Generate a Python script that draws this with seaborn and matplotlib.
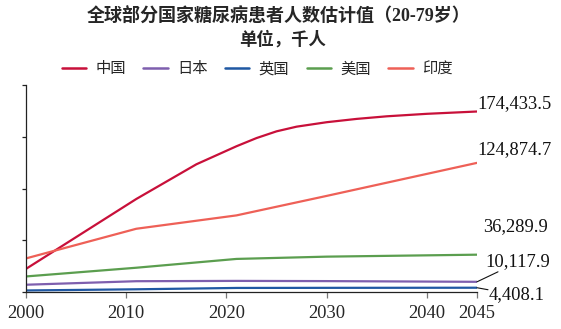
import matplotlib
matplotlib.use("Agg")
import matplotlib.pyplot as plt
import seaborn as sns
import pandas as pd

# Estimated number of people with diabetes (aged 20-79), thousands
countries = ["中国", "日本", "英国", "美国", "印度"]
years_china = [2000, 2011, 2017, 2021, 2023, 2025, 2027, 2030, 2033, 2036, 2040, 2045]
china = [22600, 90000, 123500, 140900, 148800, 155300, 159800, 164100, 167300, 169800, 172200, 174433.5]
years = [2000, 2011, 2021, 2030, 2045]
japan = [7300, 10700, 11000, 10800, 10117.9]
uk = [1760, 2900, 4200, 4300, 4408.1]
usa = [15300, 23700, 32200, 34400, 36289.9]
india = [32700, 61300, 74200, 93000, 124874.7]
colors = ["#C8103A", "#7E5FAE", "#1F58A3", "#5B9E4F", "#EE6057"]
x_ticks = [2000, 2010, 2020, 2030, 2040, 2045]

series = {"中国": (years_china, china), "日本": (years, japan), "英国": (years, uk),
          "美国": (years, usa), "印度": (years, india)}
rows = []
for name, (yrs, vals) in series.items():
    for yr, v in zip(yrs, vals):
        rows.append({"year": yr, "value": v, "country": name})
df = pd.DataFrame(rows)

sns.set_style("ticks")
plt.rcParams["font.family"] = ["Liberation Serif", "Noto Sans CJK SC", "DejaVu Sans"]

fig = plt.figure(figsize=(5.61, 3.29), dpi=100)
ax = fig.add_axes([26 / 561, 1 - 292.3 / 329, (477 - 26) / 561, (292.3 - 85) / 329])

sns.lineplot(data=df, x="year", y="value", hue="country", hue_order=countries,
             palette=dict(zip(countries, colors)), linewidth=1.6, ax=ax, legend=False)
for line in ax.get_lines():
    line.set_solid_joinstyle("round")

ax.set_xlim(2000, 2045)
ax.set_ylim(0, 200000)
ax.set_xticks(x_ticks)
ax.set_xticklabels([str(t) for t in x_ticks], fontsize=13.3, family="Liberation Serif")
ax.set_yticks([0, 50000, 100000, 150000, 200000])
ax.set_yticklabels([])
ax.set_xlabel("")
ax.set_ylabel("")
for side in ["top", "right"]:
    ax.spines[side].set_visible(False)
ax.spines["left"].set_color("#222222")
ax.spines["bottom"].set_color("#222222")
ax.spines["left"].set_linewidth(0.9)
ax.spines["bottom"].set_linewidth(0.9)
ax.tick_params(axis="x", length=4.5, color="#777777", pad=5, width=0.9)
ax.tick_params(axis="y", length=3, color="#222222", width=0.9)

# End-of-line value labels for 2045
label_style = dict(fontsize=13.3, family="Liberation Serif", color="#111111",
                   textcoords="offset pixels", ha="left", va="center", annotation_clip=False)
ax.annotate("174,433.5", xy=(2045, china[-1]), xytext=(0, 8), **label_style)
ax.annotate("124,874.7", xy=(2045, india[-1]), xytext=(0, 13), **label_style)
ax.annotate("36,289.9", xy=(2045, usa[-1]), xytext=(6, 28), **label_style)
ax.annotate("10,117.9", xy=(2045, japan[-1]), xytext=(8, 20), **label_style)
ax.annotate("4,408.1", xy=(2045, uk[-1]), xytext=(12, -7), **label_style)
leader = dict(arrowstyle="-", color="#111111", lw=0.8, shrinkA=0, shrinkB=0)
ax.annotate("", xy=(2045, japan[-1]), xytext=(21, 10), textcoords="offset pixels",
            arrowprops=leader, annotation_clip=False)
ax.annotate("", xy=(2045, uk[-1]), xytext=(11, -2), textcoords="offset pixels",
            arrowprops=leader, annotation_clip=False)

title_font = ["Liberation Serif", "Noto Sans CJK SC"]
fig.text(0.496, 1 - 16 / 329, "全球部分国家糖尿病患者人数估计值（20-79岁）", ha="center", va="center",
         fontsize=13, fontweight="bold", family=title_font)
fig.text(0.503, 1 - 40 / 329, "单位，千人", ha="center", va="center",
         fontsize=12.5, fontweight="bold", family=title_font)

handles = [plt.Line2D([], [], color=c, lw=1.8) for c in colors]
fig.legend(handles, countries, loc="center", bbox_to_anchor=(0.458, 1 - 69 / 329), ncol=5,
           frameon=False, prop={"family": ["Noto Sans CJK SC"], "size": 11},
           handlelength=1.6, handletextpad=0.6, columnspacing=1.15, borderaxespad=0)

fig.savefig("out.png", dpi=100)
